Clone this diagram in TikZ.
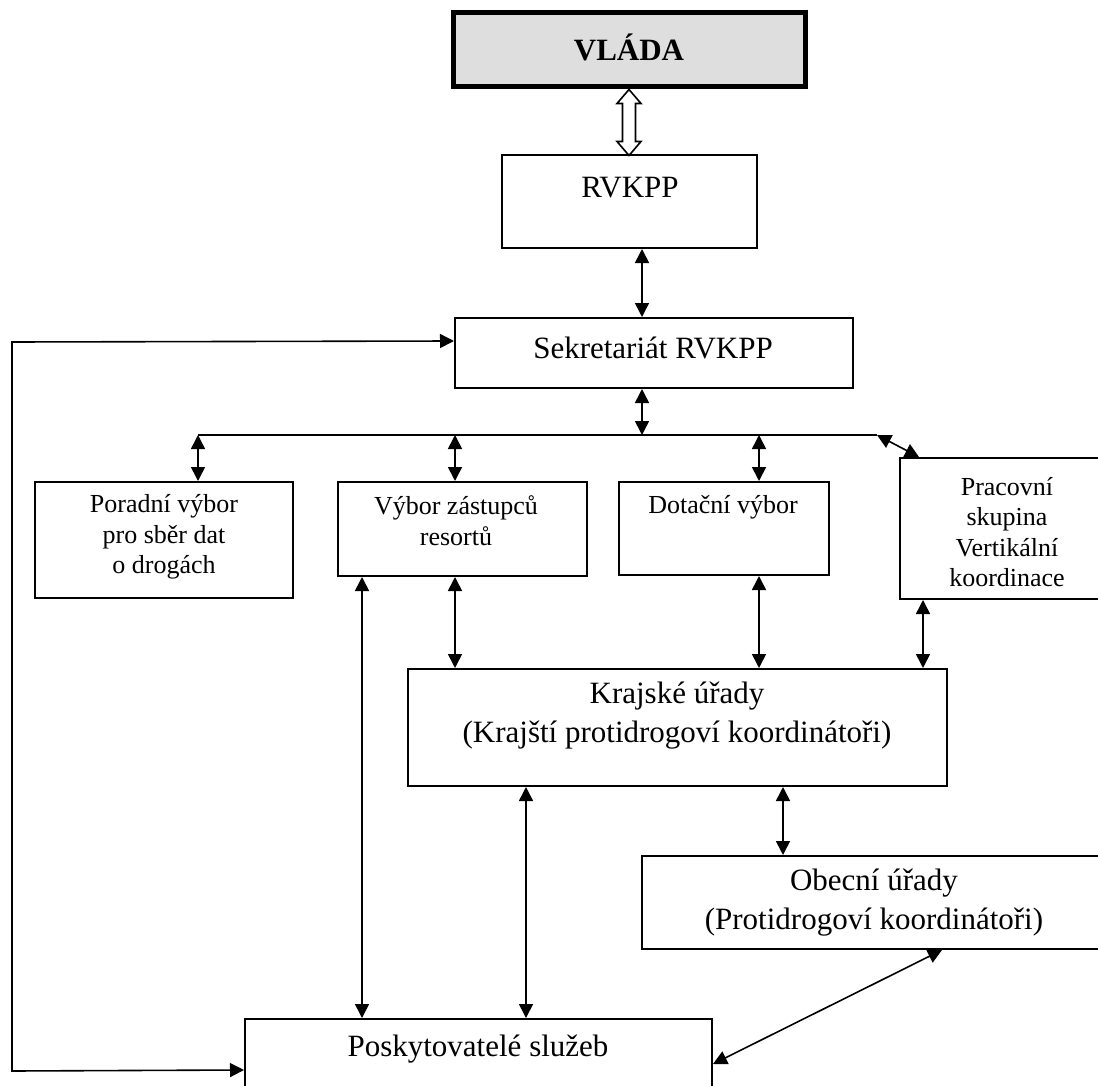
\documentclass[tikz,border=0pt]{standalone}
\usepackage{fontspec}
\setmainfont{Liberation Serif}
\usetikzlibrary{arrows.meta,fit,calc}

\begin{document}
\begin{tikzpicture}[x=0.5pt,y=-0.5pt,<->,>={Triangle[length=7pt,width=7pt]},line width=0.8pt]
\tikzstyle{box}=[draw=black,inner sep=0pt,line width=1pt,fill=white]
\tikzstyle{big}=[font=\fontsize{15.5}{19.5}\selectfont,align=center,inner sep=0pt]
\tikzstyle{small}=[font=\fontsize{13}{15.3}\selectfont,align=center,inner sep=0pt]
\useasboundingbox (0,0) rectangle (1098,1086);
\clip (0,0) rectangle (1098,1086);
% boxes
\node[box,fill=black!13,line width=2.5pt,fit={(453,13) (805,87)}] (vlada) {};
\node[box,fit={(502,155) (757,248)}] (rvkpp) {};
\node[box,fit={(455,318) (853,388)}] (sekr) {};
\node[box,fit={(35,482) (293,598)}] (poradni) {};
\node[box,fit={(338,482) (587,576)}] (vybor) {};
\node[box,fit={(619,482) (829,575)}] (dotacni) {};
\node[box,fit={(900,458) (1114,599)}] (pracovni) {};
\node[box,fit={(408,669) (947,786)}] (krajske) {};
\node[box,fit={(642,856) (1108,949)}] (obecni) {};
\node[box,fit={(245,1019) (712,1100)}] (posk) {};
% texts
\node[big] (vladaT) at (629,47) {\textbf{VLÁDA}};
\node[big] (rvkppT) at (630,188) {RVKPP};
\node[big] (sekrT) at (653,348) {Sekretariát RVKPP};
\node[small] (poradniT) at (164,537) {Poradní výbor\\pro sběr dat\\o drogách};
\node[small] (vyborT) at (456,521) {Výbor zástupců\\resortů};
\node[small] (dotacniT) at (723,507) {Dotační výbor};
\node[small] (pracovniT) at (1007,532) {Pracovní\\skupina\\Vertikální\\koordinace};
\node[big] (krajskeT) at (677,716) {Krajské úřady\\(Krajští protidrogoví koordinátoři)};
\node[big] (obecniT) at (874,903) {Obecní úřady\\(Protidrogoví koordinátoři)};
\node[big] (poskT) at (478,1049) {Poskytovatelé služeb};
% columns and the bus
\coordinate (bus) at (0,435);
\coordinate (busend) at (877,435);
\coordinate (xa) at (642,0);
\coordinate (xb) at (198,0);
\coordinate (xc) at (455,0);
\coordinate (xd) at (759,0);
\coordinate (xe) at (362,0);
\coordinate (xf) at (923,0);
\coordinate (xg) at (526,0);
\coordinate (xh) at (783,0);
% hollow arrow
\draw[-,fill=white] (vlada.south) -- ++(12,14) -- ++(-5.5,0) -- ++(0,38) -- ++(5.5,0)
  -- ++(-12,14) -- ++(-12,-14) -- ++(5.5,0) -- ++(0,-38) -- ++(-5.5,0) -- cycle;
% connectors
\draw (rvkpp.south -| xa) -- (sekr.north -| xa);
\draw (sekr.south -| xa) -- (bus -| xa);
\draw[-] (bus -| xb) -- (busend);
\draw (bus -| xb) -- (poradni.north -| xb);
\draw (bus -| xc) -- (vybor.north -| xc);
\draw (bus -| xd) -- (dotacni.north -| xd);
\draw (busend) -- ($(pracovni.north west)+(20,0)$);
\draw (vybor.south -| xe) -- (posk.north -| xe);
\draw (vybor.south -| xc) -- (krajske.north -| xc);
\draw (dotacni.south -| xd) -- (krajske.north -| xd);
\draw (pracovni.south -| xf) -- (krajske.north -| xf);
\draw (krajske.south -| xg) -- (posk.north -| xg);
\draw (krajske.south -| xh) -- (obecni.north -| xh);
\draw ($(obecni.south west)+(301,0)$) -- ($(posk.north east)+(0,46)$);
\draw ($(sekr.north west)+(0,24)$) -- (12,342) -- (12,1071) -- ($(posk.north west)+(0,52)$);
\end{tikzpicture}
\end{document}
